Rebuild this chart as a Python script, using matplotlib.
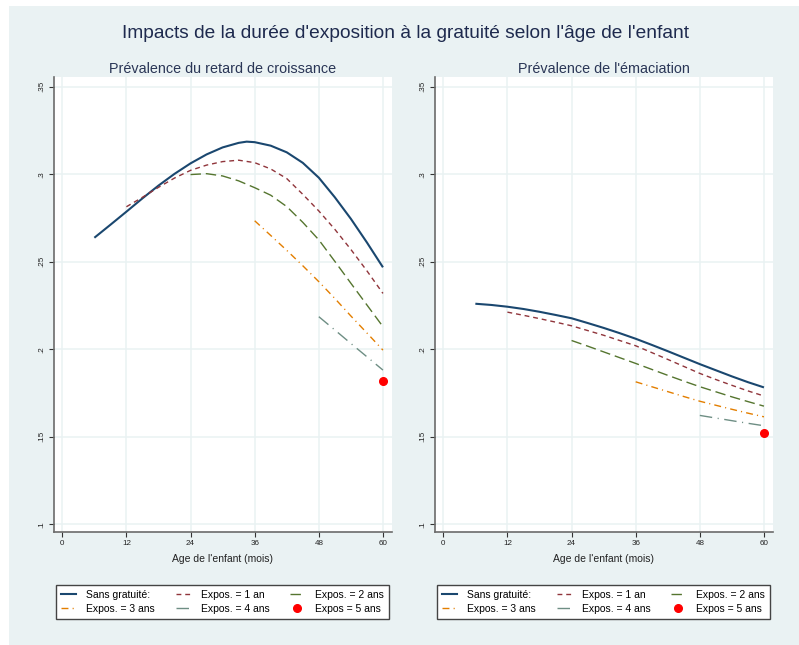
import matplotlib
matplotlib.use("Agg")
import matplotlib.pyplot as plt
from matplotlib.patches import Rectangle
from matplotlib.lines import Line2D

plt.rcParams['font.family'] = ['Liberation Sans', 'DejaVu Sans']

# ages (mois)
age_sans = [6, 9, 12, 15, 18, 21, 24, 27, 30, 33, 34.5, 36, 39, 42, 45, 48, 51, 54, 57, 60]
age_sans_em = [6, 9, 12, 15, 18, 21, 24, 27, 30, 33, 36, 39, 42, 45, 48, 51, 54, 57, 60]
age_1an = [12, 15, 18, 21, 24, 27, 30, 33, 36, 39, 42, 45, 48, 51, 54, 57, 60]
age_2ans = [24, 27, 30, 33, 36, 39, 42, 45, 48, 51, 54, 57, 60]
age_3ans = [36, 39, 42, 45, 48, 51, 54, 57, 60]
age_4ans = [48, 51, 54, 57, 60]
age_5ans = [60]

# retard de croissance
rc_sans = [.2637, .2711, .2786, .2862, .2935, .3002, .3062, .3113, .3153, .3179, .3186, .3183,
           .3163, .3125, .3065, .2980, .2868, .2745, .2610, .2468]
rc_1an = [.2814, .2868, .2925, .2978, .3022, .3052, .3072, .3080, .3066, .3030, .2975,
          .2885, .2790, .2685, .2570, .2448, .2319]
rc_2ans = [.2998, .3003, .2990, .2962, .2923, .2880, .2815, .2725, .2625, .2502, .2377, .2253, .2129]
rc_3ans = [.2734, .2650, .2565, .2477, .2386, .2290, .2190, .2093, .1995]
rc_4ans = [.2186, .2110, .2033, .1957, .1881]
rc_5ans = [.1818]

# émaciation
em_sans = [.2260, .2253, .2243, .2230, .2214, .2196, .2177, .2150, .2122, .2092, .2060,
           .2025, .1989, .1952, .1915, .1880, .1845, .1812, .1782]
em_1an = [.2212, .2194, .2175, .2155, .2134, .2107, .2080, .2050, .2020, .1981, .1942,
          .1902, .1862, .1827, .1794, .1762, .1733]
em_2ans = [.2050, .2018, .1985, .1952, .1919, .1885, .1851, .1818, .1786, .1757, .1728, .1701, .1675]
em_3ans = [.1814, .1786, .1758, .1730, .1703, .1680, .1657, .1635, .1614]
em_4ans = [.1622, .1607, .1592, .1577, .1563]
em_5ans = [.152]

xticks = [0, 12, 24, 36, 48, 60]
yticks = [.1, .15, .2, .25, .3, .35]
ytick_labels = ['.1', '.15', '.2', '.25', '.3', '.35']
labels = ['Sans gratuité:', 'Expos. = 1 an', 'Expos. = 2 ans',
          'Expos. = 3 ans', 'Expos. = 4 ans', 'Expos = 5 ans']

bg = '#eaf2f3'
navy, maroon, green, orange, teal = '#1a476f', '#90353b', '#55752f', '#e37e00', '#6e8e84'
styles = [
    dict(color=navy, lw=1.5, ls='-'),
    dict(color=maroon, lw=1.0, ls=(0, (3.5, 2.8))),
    dict(color=green, lw=1.0, ls=(0, (7.5, 3.5))),
    dict(color=orange, lw=1.0, ls=(0, (5, 3, 0.8, 3))),
    dict(color=teal, lw=1.0, ls=(0, (9, 4, 0.8, 4))),
]

W, H = 799, 645
fig = plt.figure(figsize=(W / 100, H / 100), dpi=100, facecolor='white')
fig.patches.append(Rectangle((9 / W, 0), 790 / W, 639 / H, transform=fig.transFigure,
                             facecolor=bg, edgecolor='none', zorder=-10))

fig.text(405 / W, 1 - 33 / H, "Impacts de la durée d'exposition à la gratuité selon l'âge de l'enfant",
         ha='center', va='center', fontsize=13.8, color='#1e2a4e')

panels = [
    (54, "Prévalence du retard de croissance",
     [age_sans, age_1an, age_2ans, age_3ans, age_4ans],
     [rc_sans, rc_1an, rc_2ans, rc_3ans, rc_4ans, rc_5ans]),
    (435, "Prévalence de l'émaciation",
     [age_sans_em, age_1an, age_2ans, age_3ans, age_4ans],
     [em_sans, em_1an, em_2ans, em_3ans, em_4ans, em_5ans]),
]

for x0, title, ages, series in panels:
    ax = fig.add_axes([x0 / W, (H - 532) / H, 337.5 / W, 455.3 / H])
    ax.set_facecolor('white')
    for a, y, st in zip(ages, series[:5], styles):
        ax.plot(a, y, solid_capstyle='butt', dash_capstyle='butt', **st)
    ax.plot(age_5ans, series[5], 'o', color='red', ms=5.5, mec='red')

    ax.set_xlim(-1.55, 61.6)
    ax.set_ylim(0.0956, 0.3557)
    ax.set_xticks(xticks)
    ax.set_yticks(yticks)
    ax.set_yticklabels(ytick_labels, rotation=90, va='center')
    ax.grid(True, color=bg, lw=1.1)
    ax.set_axisbelow(True)
    for s in ['top', 'right']:
        ax.spines[s].set_visible(False)
    for s in ['left', 'bottom']:
        ax.spines[s].set_color('#6b6b6b')
        ax.spines[s].set_linewidth(1.2)
    ax.tick_params(length=3.5, width=0.8, color='#333333', labelsize=5.8, pad=2.5, labelcolor='#222222')
    ax.set_xlabel("Age de l'enfant (mois)", fontsize=7.5, color='#222222', labelpad=5)
    ax.set_title(title, fontsize=10.4, color='#2a3656', pad=2.5)

    leg_handles = [
        Line2D([], [], **styles[0]),
        Line2D([], [], **styles[3]),
        Line2D([], [], **styles[1]),
        Line2D([], [], **styles[4]),
        Line2D([], [], **styles[2]),
        Line2D([], [], marker='o', ls='none', color='red', ms=5.5),
    ]
    leg_labels = [labels[0], labels[3], labels[1], labels[4], labels[2], labels[5]]
    fig.legend(leg_handles, leg_labels, ncol=3, loc='center',
               bbox_to_anchor=((x0 + 2) / W, (H - 622) / H, 333 / W, 40 / H),
               mode='expand', fontsize=7.5, frameon=True, fancybox=False,
               edgecolor='#444444', facecolor='white', framealpha=1,
               handlelength=1.4, handletextpad=1.0, columnspacing=1.3,
               labelspacing=0.4, borderaxespad=0, borderpad=0.5)

fig.savefig('out.png', dpi=100, facecolor=fig.get_facecolor())
